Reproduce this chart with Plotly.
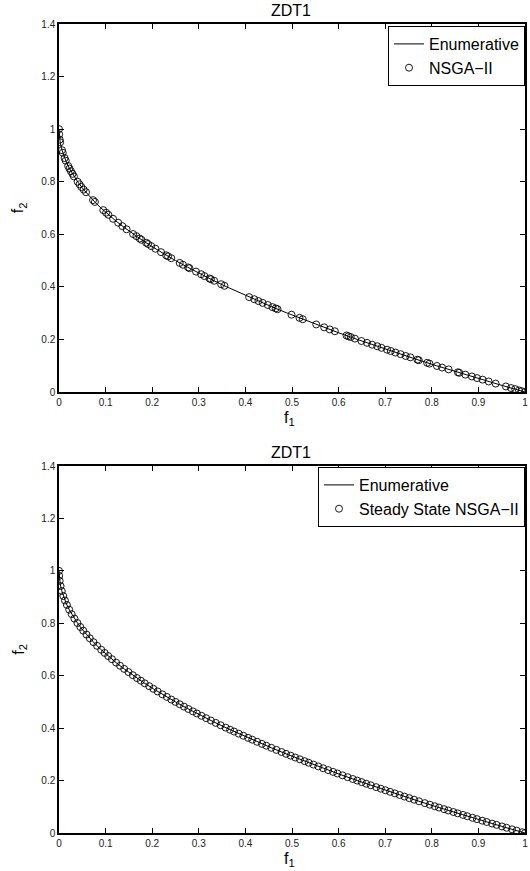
import plotly.graph_objects as go

# Enumerative Pareto front
enum_f1 = [0, 0.000625, 0.0025, 0.005625, 0.01, 0.015625, 0.0225, 0.030625, 0.04, 0.050625,
           0.0625, 0.075625, 0.09, 0.105625, 0.1225, 0.140625, 0.16, 0.180625, 0.2025, 0.225625,
           0.25, 0.275625, 0.3025, 0.330625, 0.36, 0.390625, 0.4225, 0.455625, 0.49, 0.525625,
           0.5625, 0.600625, 0.64, 0.680625, 0.7225, 0.765625, 0.81, 0.855625, 0.9025, 0.950625, 1.0]
enum_f2 = [1.0, 0.975, 0.95, 0.925, 0.9, 0.875, 0.85, 0.825, 0.8, 0.775,
           0.75, 0.725, 0.7, 0.675, 0.65, 0.625, 0.6, 0.575, 0.55, 0.525,
           0.5, 0.475, 0.45, 0.425, 0.4, 0.375, 0.35, 0.325, 0.3, 0.275,
           0.25, 0.225, 0.2, 0.175, 0.15, 0.125, 0.1, 0.075, 0.05, 0.025, 0.0]

# NSGA-II solutions (top panel)
nsga_f1 = [0, 0.0004, 0.0016, 0.0025, 0.0064, 0.0081, 0.0121, 0.0144, 0.0196, 0.0225,
           0.0256, 0.029, 0.032, 0.04, 0.044, 0.048, 0.053, 0.058, 0.073,
           0.077, 0.095, 0.101, 0.106, 0.116, 0.127, 0.136, 0.145, 0.159, 0.166,
           0.173, 0.177, 0.187, 0.191, 0.198, 0.207, 0.219, 0.230, 0.234, 0.241,
           0.259, 0.266, 0.277, 0.280, 0.294, 0.305, 0.312, 0.323, 0.326, 0.333,
           0.348, 0.355, 0.408, 0.419, 0.428, 0.437, 0.448,
           0.458, 0.465, 0.469, 0.499, 0.516, 0.523, 0.552, 0.569, 0.581, 0.592,
           0.617, 0.621, 0.626, 0.635, 0.649, 0.661, 0.672, 0.683, 0.692, 0.704,
           0.712, 0.722, 0.733, 0.744, 0.754, 0.769, 0.772, 0.790, 0.795, 0.811,
           0.822, 0.836, 0.856, 0.859, 0.872, 0.886, 0.897, 0.909, 0.922, 0.937,
           0.959, 0.970, 0.979, 0.987, 0.993, 1.0]
nsga_f2 = [1.0, 0.98, 0.96, 0.95, 0.92, 0.91, 0.89, 0.88, 0.86, 0.85,
           0.84, 0.83, 0.82, 0.80, 0.79, 0.78, 0.77, 0.76, 0.73,
           0.723, 0.692, 0.682, 0.674, 0.659, 0.644, 0.631, 0.619, 0.601, 0.593,
           0.584, 0.579, 0.568, 0.563, 0.555, 0.545, 0.532, 0.520, 0.516, 0.509,
           0.491, 0.484, 0.474, 0.471, 0.458, 0.448, 0.441, 0.432, 0.429, 0.423,
           0.410, 0.404, 0.361, 0.353, 0.346, 0.339, 0.331,
           0.323, 0.318, 0.315, 0.294, 0.282, 0.277, 0.257, 0.246, 0.238, 0.231,
           0.215, 0.212, 0.209, 0.203, 0.194, 0.187, 0.180, 0.174, 0.168, 0.161,
           0.156, 0.150, 0.144, 0.137, 0.132, 0.123, 0.121, 0.111, 0.108, 0.099,
           0.093, 0.086, 0.075, 0.073, 0.066, 0.059, 0.053, 0.047, 0.040, 0.032,
           0.021, 0.015, 0.011, 0.006, 0.003, 0.0]

# Steady State NSGA-II solutions (bottom panel)
ss_f1 = [0, 0.00036, 0.00144, 0.00336, 0.00593, 0.00922,
         0.01277, 0.0169, 0.0219, 0.0272, 0.0331, 0.0396,
         0.0458, 0.0520, 0.0590, 0.0660, 0.0740, 0.0818,
         0.0906, 0.0980, 0.1056, 0.1136, 0.1225, 0.1310, 0.1399, 0.1490, 0.1584,
         0.1673, 0.1756, 0.1840, 0.1936, 0.2025, 0.2116, 0.2218, 0.2314, 0.2411,
         0.2500, 0.2591, 0.2683, 0.2777, 0.2873, 0.2959, 0.3058, 0.3158, 0.3260, 0.3364, 0.3469, 0.3576,
         0.3672, 0.3758, 0.3856, 0.3956, 0.4058, 0.4147, 0.4251, 0.4356, 0.4449, 0.4556, 0.4665, 0.4775, 0.4872,
         0.4970, 0.5069, 0.5170, 0.5271, 0.5358, 0.5461, 0.5565, 0.5670, 0.5776, 0.5883, 0.5975, 0.6084, 0.6194, 0.6304,
         0.6400, 0.6496, 0.6593, 0.6691, 0.6806, 0.6906, 0.7006, 0.7106, 0.7208, 0.7310, 0.7413, 0.7517, 0.7621, 0.7726,
         0.7850, 0.7957, 0.8064,
         0.8154, 0.8263, 0.8354, 0.8464, 0.8556, 0.8668, 0.8761, 0.8874, 0.8968, 0.9082, 0.9178, 0.9293, 0.9390,
         0.9506, 0.9604, 0.9722, 0.9821, 0.9940, 1.0]
ss_f2 = [1.000, 0.981, 0.962, 0.942, 0.923, 0.904,
         0.887, 0.870, 0.852, 0.835, 0.818, 0.801,
         0.786, 0.772, 0.757, 0.743, 0.728, 0.714,
         0.699, 0.687, 0.675, 0.663, 0.650, 0.638, 0.626, 0.614, 0.602,
         0.591, 0.581, 0.571, 0.560, 0.550, 0.540, 0.529, 0.519, 0.509,
         0.500, 0.491, 0.482, 0.473, 0.464, 0.456, 0.447, 0.438, 0.429, 0.420, 0.411, 0.402,
         0.394, 0.387, 0.379, 0.371, 0.363, 0.356, 0.348, 0.340, 0.333, 0.325, 0.317, 0.309, 0.302,
         0.295, 0.288, 0.281, 0.274, 0.268, 0.261, 0.254, 0.247, 0.240, 0.233, 0.227, 0.220, 0.213, 0.206,
         0.200, 0.194, 0.188, 0.182, 0.175, 0.169, 0.163, 0.157, 0.151, 0.145, 0.139, 0.133, 0.127, 0.121,
         0.114, 0.108, 0.102,
         0.097, 0.091, 0.086, 0.080, 0.075, 0.069, 0.064, 0.058, 0.053, 0.047, 0.042, 0.036, 0.031,
         0.025, 0.020, 0.014, 0.009, 0.003, 0.000]

titles = ["ZDT1", "ZDT1"]
legend_names = [["Enumerative", "NSGA\u2212II"], ["Enumerative", "Steady State NSGA\u2212II"]]
x_ticks = [0, 0.1, 0.2, 0.3, 0.4, 0.5, 0.6, 0.7, 0.8, 0.9, 1]
y_ticks = [0, 0.2, 0.4, 0.6, 0.8, 1, 1.2, 1.4]

FONT = "Liberation Sans, Arial, Helvetica, sans-serif"
W, H = 530, 871
mt, mb, ml, mr = 24, 38, 59, 3
plot_h = H - mt - mb
plot_w = W - ml - mr

def fy(px):  # pixel from top -> paper y
    return (H - mb - px) / plot_h

def fx(px):
    return (px - ml) / plot_w

top_dom = [fy(392), 1.0]
bot_dom = [0.0, fy(466)]

fig = go.Figure()
series = [(nsga_f1, nsga_f2), (ss_f1, ss_f2)]
for i in range(2):
    xa = "x" if i == 0 else "x2"
    ya = "y" if i == 0 else "y2"
    lg = "legend" if i == 0 else "legend2"
    fig.add_trace(go.Scatter(x=enum_f1, y=enum_f2, mode="lines", name=legend_names[i][0],
                             line=dict(color="black", width=1), xaxis=xa, yaxis=ya, legend=lg))
    fig.add_trace(go.Scatter(x=series[i][0], y=series[i][1], mode="markers", name=legend_names[i][1],
                             marker=dict(symbol="circle-open", size=7, color="black",
                                         line=dict(width=0.9, color="black")),
                             xaxis=xa, yaxis=ya, legend=lg))

axis_common = dict(showgrid=False, zeroline=False, showline=True, linecolor="black", linewidth=1.5,
                   mirror="ticks", ticks="inside", ticklen=5, tickwidth=1, tickcolor="black",
                   tickfont=dict(family=FONT, size=10, color="#222"))

legend_common = dict(x=1.0, xanchor="right", yanchor="top", bgcolor="white",
                     bordercolor="black", borderwidth=1, font=dict(family=FONT, size=16),
                     itemwidth=30, tracegroupgap=0)

fig.update_layout(
    width=W, height=H,
    margin=dict(l=ml, r=mr, t=mt, b=mb),
    paper_bgcolor="white", plot_bgcolor="white",
    font=dict(family=FONT, color="black"),
    xaxis=dict(domain=[0, 1], anchor="y", range=[0, 1], tickvals=x_ticks, **axis_common),
    yaxis=dict(domain=top_dom, anchor="x", range=[0, 1.4], tickvals=y_ticks, **axis_common),
    xaxis2=dict(domain=[0, 1], anchor="y2", range=[0, 1], tickvals=x_ticks, **axis_common),
    yaxis2=dict(domain=bot_dom, anchor="x2", range=[0, 1.4], tickvals=y_ticks, **axis_common),
    legend=dict(y=fy(26), **legend_common),
    legend2=dict(y=fy(467), **legend_common),
    showlegend=True,
)

annotations = []
for i, (ytop, ybot) in enumerate([(24, 392), (466, 833)]):
    annotations.append(dict(text=titles[i], x=fx(292), xref="paper", y=fy(ytop), yref="paper",
                            xanchor="center", yanchor="bottom", yshift=3, showarrow=False,
                            font=dict(family=FONT, size=16, color="black")))
    annotations.append(dict(text="f<sub>1</sub>", x=fx(290), xref="paper", y=fy(ybot), yref="paper",
                            xanchor="center", yanchor="top", yshift=-15, showarrow=False,
                            font=dict(family=FONT, size=16, color="black")))
    annotations.append(dict(text="f<sub>2</sub>", x=fx(19), xref="paper", y=fy((ytop + ybot) / 2),
                            yref="paper", xanchor="center", yanchor="middle", showarrow=False,
                            textangle=-90, font=dict(family=FONT, size=16, color="black")))
fig.update_layout(annotations=annotations)

fig.write_html("out.html", config={"displayModeBar": False},
               post_script="document.body.style.margin='0';document.body.style.overflow='hidden';")
